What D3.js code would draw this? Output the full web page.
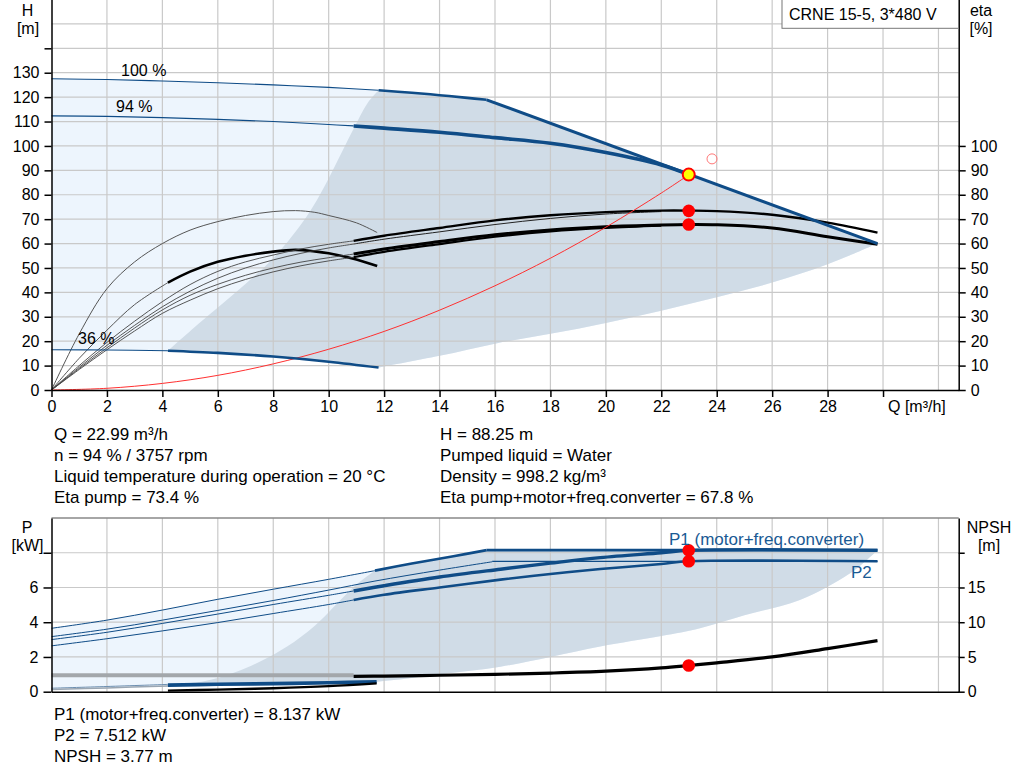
<!DOCTYPE html>
<html>
<head>
<meta charset="utf-8">
<script src="https://cdn.jsdelivr.net/npm/d3@7"></script>
<style>
body { margin: 0; background: #fff; }
svg { font-family: "Liberation Sans", Arial, sans-serif; }
.axis path, .axis line { stroke: #000; stroke-width: 1.5; }
.axis text { font-size: 16px; fill: #000; font-family: "Liberation Sans", Arial, sans-serif; }
.grid line { stroke: #c9c9c9; stroke-width: 1.2; }
</style>
</head>
<body>
<script>
// tick values
const qTicks = [0, 2, 4, 6, 8, 10, 12, 14, 16, 18, 20, 22, 24, 26, 28, 30];
const qGrid = [2, 4, 6, 8, 10, 12, 14, 16, 18, 20, 22, 24, 26, 28, 30, 32];
const hTicks = [0, 10, 20, 30, 40, 50, 60, 70, 80, 90, 100, 110, 120, 130, 140];
const hGrid = [10, 20, 30, 40, 50, 60, 70, 80, 90, 100, 110, 120, 130, 140, 150, 160];
const etaTicks = [0, 10, 20, 30, 40, 50, 60, 70, 80, 90, 100];
const pTicks = [0, 2, 4, 6, 8];
const npshTicks = [0, 5, 10, 15, 20];

// head curves [Q m3/h, H m]
const head100 = [[0,127.5],[2,127.2],[4,126.6],[6,125.9],[8,125.0],[10,124.0],[11.8,122.8],[13,121.8],[14,120.8],[15,119.7],[15.7,118.9]];
const headLimit = [[15.7,118.9],[29.8,60]];
const head94 = [[0,112.3],[2,112.1],[4,111.6],[6,110.9],[8,110.0],[10,108.8],[10.9,108.2],[12,107.3],[14,105.6],[16,103.4],[18,101.1],[20,97.3],[22,92.2],[23,88.25]];
const head36 = [[0,16.5],[2,16.4],[4.2,16.1],[6,15.2],[8,13.7],[10,11.6],[11.8,9.2]];
const systemCurve = [[0,0],[2,0.7],[4,2.7],[6,6],[8,10.7],[10,16.7],[12,24],[14,32.7],[16,42.7],[18,54],[20,66.7],[22,80.7],[23,88.25]];
const rangeLeft = [[4.2,16.1],[5.6,30],[6.8,41.5],[8,54],[9.2,71],[9.9,84.5],[10.5,98],[10.9,107],[11.4,117.5],[11.8,122.8]];
const rangeBottom = [[11.8,9.2],[14,14],[16,19],[18,23],[20,27.5],[22,32.5],[24,38],[26,44],[28,51.5],[29.8,60]];

// efficiency curves [Q, eta %]
const etaPump94 = [[0,0],[1,10],[2,19.5],[3,28.2],[4,36.2],[5,43.2],[6,48.6],[7,52.5],[8,55.3],[9,57.8],[10,59.7],[10.9,61.1],[12,63.2],[14,66.4],[16,69.5],[18,71.6],[20,72.9],[22,73.5],[23,73.5],[24,73.3],[26,71.8],[28,68.6],[29.8,64.5]];
const etaPump100 = [[0,0],[1,9.3],[2,18.3],[3,26.5],[4,34.1],[5,40.5],[6,45.8],[7,50],[8,53.3],[9,56],[10,58.2],[10.9,59.8],[12,61.8],[14,64.8],[16,67.8],[18,70.3],[20,72.1],[22,73.1]];
const etaTotal94 = [[0,0],[1,8.8],[2,17.3],[3,25.4],[4,32.8],[5,38.8],[6,43.3],[7,47],[8,50],[9,52.4],[10,54.2],[10.9,55.7],[12,57.8],[14,60.8],[16,63.6],[18,65.6],[20,66.9],[22,67.6],[23,67.8],[24,67.7],[26,66.4],[28,62.8],[29.8,59.7]];
const etaTotal100 = [[0,0],[1,8.4],[2,16.5],[3,24.2],[4,31.4],[5,36.8],[6,41.5],[7,45.3],[8,48.4],[9,50.9],[10,52.9],[10.9,54.4],[12,56.6],[14,59.8],[16,62.8],[18,65],[20,66.4],[22,67.3]];
const etaPump36 = [[0,0],[1,23],[2,41.5],[3,52.5],[4,60],[5,65.5],[6,69],[7,71.5],[8,73.1],[8.8,73.5],[9.5,72.8],[10,71.5],[11,68.5],[11.75,64.5]];
const etaTotal36 = [[0,0],[1,13],[2,24.5],[3,35],[4.2,44],[5,48.5],[6,52.5],[7,55],[8,56.7],[8.8,57.4],[9.5,56.8],[10,56],[11,53.5],[11.75,50.8]];

// power curves [Q, P kW]
const p1Max = [[0,3.65],[2,4.12],[4,4.7],[6,5.32],[8,5.9],[10,6.47],[11.67,6.97],[13,7.38],[14.5,7.8],[15.7,8.15]];
const p1Limit = [[15.7,8.15],[29.8,8.15]];
const p2Max = [[0,3.17],[2,3.6],[4,4.12],[6,4.68],[8,5.25],[10,5.85],[11.67,6.37],[14,7.0],[15.9,7.48]];
const p2Limit = [[15.9,7.5],[29.8,7.5]];
const p1Duty = [[0,3.0],[2,3.42],[4,3.93],[6,4.47],[8,5.02],[10,5.55],[10.9,5.8],[12,6.1],[14,6.6],[16.2,7.05],[18,7.4],[19.8,7.72],[22,8.0],[23,8.137],[29.8,8.137]];
const p2Duty = [[0,2.64],[2,3.05],[4,3.5],[6,3.98],[8,4.5],[10,5.02],[10.9,5.28],[12,5.58],[14,6.0],[16.2,6.45],[18,6.78],[19.8,7.06],[22,7.35],[23,7.512],[29.8,7.512]];
const p1Min = [[0,0.2],[2,0.3],[4.2,0.42],[6,0.46],[8,0.5],[10,0.55],[11.73,0.6]];
const p2Min = [[0,0.12],[2,0.22],[4.2,0.33],[6,0.38],[8,0.42],[10,0.47],[11.73,0.52]];
const powerLeft = [[4.2,0.38],[5.5,0.6],[6.6,1.1],[7.6,1.8],[8.5,2.6],[9.5,3.8],[10.5,5.4],[11.1,6.3],[11.67,6.97]];
const powerBottom = [[4.2,0.35],[8,0.45],[11.75,0.58],[14,1.0],[16.2,1.44],[18,2.0],[19.8,2.6],[22,3.2],[23.4,3.65],[25,4.4],[27,5.28],[28.8,6.8],[29.8,8.15]];

// NPSH curves [Q, m]
const npshDuty = [[10.9,2.2],[12,2.25],[14,2.37],[16,2.5],[18,2.68],[20,2.95],[22,3.42],[23,3.77],[24,4.15],[26,5.0],[28,6.2],[29.8,7.35]];
const npshMin = [[4.2,0.15],[6,0.3],[8,0.5],[10,0.8],[11.73,1.2]];
const npshLow = [[0,2.375],[10.9,2.375]];

// duty point
const dutyQ = 22.99, dutyH = 88.25, dutyEtaPump = 73.4, dutyEtaTotal = 67.8;
const dutyP1 = 8.137, dutyP2 = 7.512, dutyNpsh = 3.77;
const setQ = 23.83, setH = 94.7;

const infoLeft = ["Q = 22.99 m\u00b3/h", "n = 94 % / 3757 rpm", "Liquid temperature during operation = 20 \u00b0C", "Eta pump = 73.4 %"];
const infoRight = ["H = 88.25 m", "Pumped liquid = Water", "Density = 998.2 kg/m\u00b3", "Eta pump+motor+freq.converter = 67.8 %"];
const infoBottom = ["P1 (motor+freq.converter) = 8.137 kW", "P2 = 7.512 kW", "NPSH = 3.77 m"];

const blue = "#0f4c87", lightFill = "#edf5fd", darkFill = "#d0dce7";

const svg = d3.select("body").append("svg")
    .attr("width", 1024)
    .attr("height", 781);

const x = d3.scaleLinear().domain([0, 32.73]).range([51.5, 958.7]);
const yH = d3.scaleLinear().domain([0, 160]).range([390, -0.5]);
const yP = d3.scaleLinear().domain([0, 10]).range([691.7, 518]);
const yN = d3.scaleLinear().domain([0, 25]).range([691.7, 518]);

function pathOf(pts, ys) {
    return d3.line().x(d => x(d[0])).y(d => ys(d[1])).curve(d3.curveCatmullRom)(pts);
}
// joins several segments into one closed polygon
function polygon(segs, ys) {
    return segs.map((s, i) => i ? pathOf(s, ys).replace(/^M/, "L") : pathOf(s, ys)).join("") + "Z";
}
function rev(a) { return a.slice().reverse(); }
function from(a, q) { return a.filter(d => d[0] >= q); }
function upto(a, q) { return a.filter(d => d[0] <= q); }
function draw(g, pts, ys, color, w) {
    g.append("path")
     .attr("d", pathOf(pts, ys))
     .attr("fill", "none")
     .attr("stroke", color)
     .attr("stroke-width", w)
     .attr("stroke-linejoin", "round");
}

// ---------- top chart ----------
const headChart = svg.append("g");

headChart.append("path")
   .attr("d", polygon([head100, headLimit, rev(rangeBottom), rev(head36)], yH))
   .attr("fill", lightFill);
headChart.append("path")
   .attr("d", polygon([rangeLeft, from(head100, 11.8), headLimit, rev(rangeBottom), rev(from(head36, 4.2))], yH))
   .attr("fill", darkFill);

const gridTop = headChart.append("g").attr("class", "grid");
gridTop.selectAll(".v").data(qGrid).enter().append("line")
   .attr("x1", d => x(d)).attr("x2", d => x(d))
   .attr("y1", yH(160)).attr("y2", yH(0));
gridTop.selectAll(".h").data(hGrid).enter().append("line")
   .attr("x1", x(0)).attr("x2", x(32.73))
   .attr("y1", d => yH(d)).attr("y2", d => yH(d));

// efficiency
draw(headChart, etaPump36, yH, "#555", 1);
draw(headChart, upto(etaTotal36, 4.2), yH, "#555", 1);
draw(headChart, from(etaTotal36, 4.2), yH, "#000", 2.6);
[etaPump94, etaPump100, etaTotal94, etaTotal100].forEach(c => draw(headChart, upto(c, 10.9), yH, "#444", 0.9));
draw(headChart, from(etaPump100, 10.9), yH, "#222", 1);
draw(headChart, from(etaTotal100, 10.9), yH, "#000", 2.2);
draw(headChart, from(etaPump94, 10.9), yH, "#000", 2.4);
draw(headChart, from(etaTotal94, 10.9), yH, "#000", 3);

// head
draw(headChart, systemCurve, yH, "#ff3030", 1);
draw(headChart, upto(head100, 11.8), yH, blue, 1.1);
draw(headChart, from(head100, 11.8), yH, blue, 2.6);
draw(headChart, headLimit, yH, blue, 3);
draw(headChart, upto(head94, 10.9), yH, blue, 1.1);
draw(headChart, from(head94, 10.9), yH, blue, 3.6);
draw(headChart, upto(head36, 4.2), yH, blue, 1.1);
draw(headChart, from(head36, 4.2), yH, blue, 2.6);

headChart.append("circle").attr("cx", x(setQ)).attr("cy", yH(setH)).attr("r", 5)
   .attr("fill", "none").attr("stroke", "#f77").attr("stroke-width", 1);
[dutyEtaPump, dutyEtaTotal].forEach(v =>
    headChart.append("circle").attr("cx", x(dutyQ)).attr("cy", yH(v)).attr("r", 6.3).attr("fill", "#ff0000"));
headChart.append("circle").attr("cx", x(dutyQ)).attr("cy", yH(dutyH)).attr("r", 6)
   .attr("fill", "#ffff00").attr("stroke", "#ff0000").attr("stroke-width", 2);

headChart.append("g").attr("class", "axis")
   .attr("transform", "translate(" + x(0) + ",0)")
   .call(d3.axisLeft(yH).tickValues(hTicks).tickSize(7).tickSizeOuter(0).tickPadding(5)
        .tickFormat(d => d <= 130 ? d : ""));
headChart.append("g").attr("class", "axis")
   .attr("transform", "translate(0," + yH(0) + ")")
   .call(d3.axisBottom(x).tickValues(qTicks).tickSize(7).tickSizeOuter(0).tickPadding(4)
        .tickFormat(d => d <= 28 ? d : ""));
headChart.append("g").attr("class", "axis")
   .attr("transform", "translate(" + x(32.73) + ",0)")
   .call(d3.axisRight(yH).tickValues(etaTicks).tickSize(7).tickSizeOuter(0).tickPadding(5));

function label(t, px, py, anchor, size, color) {
    svg.append("text").attr("x", px).attr("y", py)
       .attr("text-anchor", anchor || "start")
       .attr("font-size", size || 16)
       .attr("fill", color || "#000")
       .text(t);
}
label("H", 27.5, 16, "middle");
label("[m]", 28, 34, "middle");
label("eta", 981, 16, "middle");
label("[%]", 981, 34, "middle");
label("Q [m\u00b3/h]", x(30) + 5, 412);
label("100 %", 121, 76);
label("94 %", 116, 111.7);
label("36 %", 78, 344);

svg.append("rect").attr("x", 782).attr("y", -1).attr("width", 176.5).attr("height", 29.3)
   .attr("fill", "#fff").attr("stroke", "#777").attr("stroke-width", 1);
label("CRNE 15-5, 3*480 V", 789, 19.5);

infoLeft.forEach((t, i) => label(t, 54, 440 + i * 21, "start", 17));
infoRight.forEach((t, i) => label(t, 440, 440 + i * 21, "start", 17));

// ---------- bottom chart ----------
const powerChart = svg.append("g");

powerChart.append("path")
   .attr("d", polygon([p1Max, p1Limit, rev(powerBottom), [[4.2, 0.3], [0, 0.1]]], yP))
   .attr("fill", lightFill);
powerChart.append("path")
   .attr("d", polygon([powerLeft, from(p1Max, 11.67), p1Limit, rev(powerBottom)], yP))
   .attr("fill", darkFill);

const gridBot = powerChart.append("g").attr("class", "grid");
gridBot.selectAll(".v").data(qGrid).enter().append("line")
   .attr("x1", d => x(d)).attr("x2", d => x(d))
   .attr("y1", yP(10)).attr("y2", yP(0));
gridBot.selectAll(".h").data(pTicks.slice(1)).enter().append("line")
   .attr("x1", x(0)).attr("x2", x(32.73))
   .attr("y1", d => yP(d)).attr("y2", d => yP(d));
powerChart.append("line").attr("x1", x(0)).attr("x2", x(32.73))
   .attr("y1", yP(10)).attr("y2", yP(10))
   .attr("stroke", "#888").attr("stroke-width", 1.5);

draw(powerChart, npshLow, yN, "#a3a7ab", 4);
draw(powerChart, upto(p1Min, 4.2), yP, "#6d8fb0", 1);
draw(powerChart, upto(p2Min, 4.2), yP, "#9aa6b2", 1.5);
draw(powerChart, from(p1Min, 4.2), yP, blue, 2.4);
draw(powerChart, from(p2Min, 4.2), yP, blue, 2);
draw(powerChart, npshMin, yN, "#000", 2.4);
draw(powerChart, npshDuty, yN, "#000", 3.2);

draw(powerChart, upto(p1Max, 11.67), yP, blue, 1);
draw(powerChart, from(p1Max, 11.67), yP, blue, 2.6);
draw(powerChart, p1Limit, yP, blue, 2.6);
draw(powerChart, p2Max, yP, blue, 1);
draw(powerChart, p2Limit, yP, blue, 1.2);
draw(powerChart, upto(p1Duty, 10.9), yP, blue, 1);
draw(powerChart, from(p1Duty, 10.9), yP, blue, 3.4);
draw(powerChart, upto(p2Duty, 10.9), yP, blue, 1);
draw(powerChart, from(p2Duty, 10.9), yP, blue, 2.6);

[yP(dutyP1), yP(dutyP2), yN(dutyNpsh)].forEach(cy =>
    powerChart.append("circle").attr("cx", x(dutyQ)).attr("cy", cy).attr("r", 6.3).attr("fill", "#ff0000"));

powerChart.append("g").attr("class", "axis")
   .attr("transform", "translate(" + x(0) + ",0)")
   .call(d3.axisLeft(yP).tickValues(pTicks).tickSize(8).tickSizeOuter(0).tickPadding(5)
        .tickFormat(d => d < 8 ? d : ""));
powerChart.append("g").attr("class", "axis")
   .attr("transform", "translate(0," + yP(0) + ")")
   .call(d3.axisBottom(x).tickValues([]).tickSizeOuter(0));
powerChart.append("g").attr("class", "axis")
   .attr("transform", "translate(" + x(32.73) + ",0)")
   .call(d3.axisRight(yN).tickValues(npshTicks).tickSize(6).tickSizeOuter(0).tickPadding(3)
        .tickFormat(d => d < 20 ? d : ""));

label("P", 27, 532.7, "middle");
label("[kW]", 27.5, 551, "middle");
label("NPSH", 989, 532.7, "middle");
label("[m]", 989, 551, "middle");
label("P1 (motor+freq.converter)", 669, 545, "start", 17, "#1a5a94");
label("P2", 851, 578, "start", 17, "#1a5a94");

infoBottom.forEach((t, i) => label(t, 54, 720 + i * 21, "start", 17));
</script>
</body>
</html>
